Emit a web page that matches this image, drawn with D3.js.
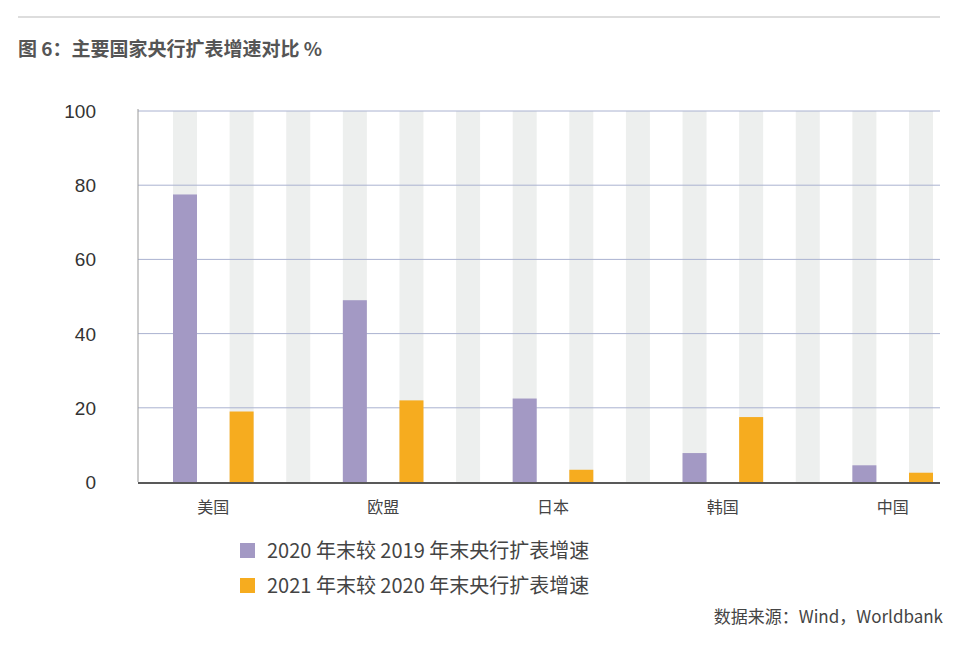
<!DOCTYPE html>
<html>
<head>
<meta charset="utf-8">
<script src="https://cdn.jsdelivr.net/npm/d3@7"></script>
<style>
  body { margin: 0; background: #fff; font-family: "Noto Sans CJK SC", "Liberation Sans", sans-serif; }
</style>
</head>
<body>
<svg id="chart" width="967" height="652"></svg>
<script>
var categories = ["美国", "欧盟", "日本", "韩国", "中国"];
var growth2020 = [77.5, 49, 22.5, 7.8, 4.5];
var growth2021 = [19, 22, 3.3, 17.5, 2.5];
var yTicks = [0, 20, 40, 60, 80, 100];
var seriesNames = ["2020 年末较 2019 年末央行扩表增速", "2021 年末较 2020 年末央行扩表增速"];
var colors = ["#a399c4", "#f6ac1f"];

var svg = d3.select("#chart");
var plotLeft = 138, plotRight = 940, plotTop = 111, plotBottom = 482;

svg.append("line").attr("x1", 18).attr("x2", 940).attr("y1", 17).attr("y2", 17)
  .attr("stroke", "#bbb").attr("stroke-width", 1);
svg.append("text").attr("x", 18).attr("y", 56).attr("font-size", 19).attr("font-weight", "bold")
  .attr("fill", "#555").text("图 6：主要国家央行扩表增速对比 %");

// 14 slots: two bars per category plus a gap between categories
var slots = d3.range(14);
var x = d3.scaleBand().domain(slots).range([173, 933]).paddingInner(0.576);
var y = d3.scaleLinear().domain([0, 100]).range([plotBottom, plotTop]);

svg.selectAll(".bg").data(slots).enter().append("rect")
  .attr("x", function(d) { return x(d); }).attr("width", x.bandwidth())
  .attr("y", plotTop).attr("height", plotBottom - plotTop).attr("fill", "#edefee");

svg.selectAll(".grid").data(yTicks.filter(function(d) { return d > 0; })).enter().append("line")
  .attr("x1", plotLeft).attr("x2", plotRight)
  .attr("y1", function(d) { return y(d); }).attr("y2", function(d) { return y(d); })
  .attr("stroke", "#aab2d0").attr("stroke-width", 1);

svg.selectAll(".ytick").data(yTicks).enter().append("text")
  .attr("x", 96).attr("y", function(d) { return y(d) + 7; })
  .attr("text-anchor", "end").attr("font-size", 19).attr("fill", "#333")
  .attr("font-family", "Liberation Sans, sans-serif").text(function(d) { return d; });

[growth2020, growth2021].forEach(function(series, s) {
  svg.selectAll(".bar" + s).data(series).enter().append("rect")
    .attr("x", function(d, i) { return x(i * 3 + s); }).attr("width", x.bandwidth())
    .attr("y", function(d) { return y(d); }).attr("height", function(d) { return plotBottom - y(d); })
    .attr("fill", colors[s]);
});

svg.append("line").attr("x1", plotLeft).attr("x2", plotLeft).attr("y1", plotTop - 2).attr("y2", plotBottom)
  .attr("stroke", "#999").attr("stroke-width", 1);
svg.append("line").attr("x1", plotLeft).attr("x2", plotRight).attr("y1", plotBottom + 1).attr("y2", plotBottom + 1)
  .attr("stroke", "#222").attr("stroke-width", 1.5);

svg.selectAll(".cat").data(categories).enter().append("text")
  .attr("x", function(d, i) { return (x(i * 3) + x(i * 3 + 1) + x.bandwidth()) / 2; })
  .attr("y", 513).attr("text-anchor", "middle").attr("font-size", 16).attr("fill", "#444")
  .text(function(d) { return d; });

seriesNames.forEach(function(name, s) {
  var ly = 543 + s * 35;
  svg.append("rect").attr("x", 240).attr("y", ly).attr("width", 15).attr("height", 15).attr("fill", colors[s]);
  svg.append("text").attr("x", 267).attr("y", ly + 15).attr("font-size", 20).attr("fill", "#444").text(name);
});

svg.append("text").attr("x", 943).attr("y", 623).attr("text-anchor", "end").attr("font-size", 17)
  .attr("fill", "#444").text("数据来源：Wind，Worldbank");
</script>
</body>
</html>
